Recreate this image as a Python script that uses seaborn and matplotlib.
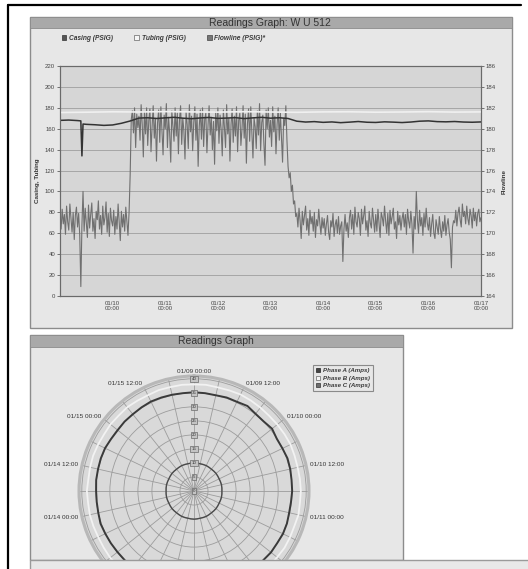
import numpy as np
import pandas as pd
import matplotlib
matplotlib.use("Agg")
import matplotlib.pyplot as plt
import matplotlib.dates as mdates
from matplotlib.patches import Rectangle, Patch
from matplotlib.lines import Line2D
import seaborn as sns

sns.set_theme(style="white")
plt.rcParams['font.family'] = ['Liberation Sans', 'DejaVu Sans']

W, H = 528, 569

# ---- top chart: readings from 01/09 00:00 ----
start = "2009-01-09 00:00"

# flowline (right axis, PSIG), one value every 30 minutes, one row = 12 hours
flowline = [
    171.6, 170.4, 172.3, 170.9, 171.8, 169.9, 172.6, 171.1, 170.3, 172.8, 171.5, 170.1,
    172.0, 169.4, 171.7, 172.5, 170.6, 171.9, 169.8, 164.9, 170.8, 174.0, 170.2, 172.4,
    171.0, 169.6, 172.7, 170.5, 171.8, 172.9, 170.2, 171.4, 169.5, 172.1, 171.3, 173.1,
    170.4, 171.7, 169.9, 172.6, 170.8, 171.5, 173.0, 170.1, 171.9, 169.7, 172.4, 171.2,
    170.7, 172.2, 169.9, 171.6, 170.4, 172.8, 171.0, 169.3, 172.1, 170.6, 171.8, 170.2,
    172.5, 171.1, 169.8, 172.0, 175.6, 180.9, 181.7, 179.6, 182.0, 178.2, 181.4, 180.1,
    181.2, 178.9, 182.3, 180.4, 177.3, 181.6, 179.5, 182.0, 178.4, 180.8, 181.9, 177.8,
    180.2, 182.2, 179.1, 181.0, 176.9, 180.6, 181.8, 178.7, 182.1, 179.9, 177.5, 181.3,
    180.0, 182.4, 178.2, 181.1, 179.6, 176.8, 181.7, 180.3, 178.8, 182.0, 179.3, 181.5,
    177.6, 180.9, 182.2, 178.5, 181.0, 179.8, 177.1, 181.6, 180.4, 178.1, 182.3, 179.7,
    181.2, 177.9, 180.6, 182.1, 178.9, 181.4, 176.4, 180.2, 181.8, 179.0, 182.0, 178.3,
    180.9, 181.5, 177.7, 180.3, 182.2, 179.4, 181.1, 178.0, 180.7, 176.6, 181.6, 179.8,
    182.0, 178.6, 181.3, 179.9, 177.4, 181.8, 180.1, 178.2, 182.3, 179.5, 181.0, 176.9,
    180.4, 181.9, 178.7, 181.2, 179.3, 182.1, 177.8, 180.8, 181.5, 178.4, 180.0, 182.2,
    179.1, 181.4, 176.7, 180.5, 181.9, 178.8, 182.1, 179.6, 177.2, 181.0, 180.2, 178.1,
    181.7, 179.4, 182.4, 177.9, 180.6, 181.3, 178.5, 176.5, 181.8, 180.0, 182.0, 179.2,
    180.8, 178.3, 182.1, 179.7, 181.2, 177.6, 180.4, 182.0, 178.9, 181.5, 179.2, 176.8,
    181.0, 180.3, 182.2, 178.9, 176.4, 175.3, 175.8, 174.0, 174.6, 172.8, 173.1, 171.6,
    171.9, 170.6, 172.4, 171.2, 169.5, 172.1, 170.8, 171.7, 172.6, 170.3, 171.4, 169.8,
    172.2, 170.9, 171.6, 170.2, 172.0, 169.6, 171.3, 170.7, 172.3, 171.0, 169.9, 171.5,
    170.5, 171.4, 169.8, 170.9, 171.7, 170.1, 169.4, 171.2, 170.6, 171.9, 169.7, 170.8,
    171.3, 170.0, 171.6, 169.9, 170.7, 171.1, 167.3, 170.4, 171.8, 170.2, 171.0, 169.6,
    171.5, 172.2, 170.4, 171.8, 169.9, 172.5, 171.1, 170.6, 172.0, 171.4, 169.8, 172.3,
    170.9, 171.7, 172.6, 170.3, 171.2, 169.7, 172.1, 171.0, 170.5, 172.4, 171.3, 170.1,
    171.8, 170.2, 172.3, 171.0, 169.6, 172.0, 171.5, 170.7, 172.6, 171.2, 170.0, 171.9,
    169.8, 172.2, 170.9, 171.6, 172.4, 170.4, 171.1, 169.5, 172.1, 170.8, 171.7, 170.3,
    171.4, 172.0, 170.6, 171.8, 169.9, 172.3, 171.2, 170.5, 172.1, 170.9, 168.1, 171.6,
    170.4, 174.0, 171.3, 170.0, 172.2, 170.7, 171.5, 169.8, 171.9, 170.6, 172.4, 171.0,
    170.3, 171.5, 169.7, 170.9, 171.8, 170.0, 169.5, 171.3, 170.6, 169.9, 171.6, 170.4,
    169.6, 171.1, 170.2, 171.7, 169.8, 170.8, 171.4, 170.1, 169.4, 166.7, 170.6, 171.2,
    171.0, 172.2, 170.7, 171.9, 172.5, 171.3, 170.6, 172.8, 171.6, 172.1, 170.9, 172.6,
    171.4, 170.8, 172.3, 171.7, 170.5, 172.4, 171.2, 172.0, 170.7, 171.9, 172.3, 171.1,
    171.5,
]

# casing (left axis, PSIG)
casing_hours = [0, 4, 8, 9.5, 10, 10.5, 12, 16, 20, 24, 28, 32, 36, 40, 44, 48, 52, 56,
                60, 64, 68, 72, 76, 80, 84, 88, 92, 96, 100, 104, 108, 112, 116, 120,
                124, 128, 132, 136, 140, 144, 148, 152, 156, 160, 164, 168, 172, 176,
                180, 184, 188, 192]
casing = [168.0, 168.3, 167.8, 167.5, 134.0, 164.5, 164.2, 163.8, 163.2, 163.6, 165.2,
          167.4, 170.2, 170.5, 169.8, 170.4, 170.9, 170.1, 169.6, 170.3, 170.8, 169.9,
          170.2, 170.6, 169.7, 170.4, 170.9, 170.1, 170.5, 169.8, 167.2, 166.4, 166.8,
          166.1, 166.5, 165.8, 166.3, 166.9, 166.2, 166.0, 166.6, 166.3, 165.9, 166.4,
          167.2, 167.5, 166.8, 166.6, 166.9, 166.4, 166.2, 166.5]

# tubing (left axis, PSIG)
tubing_hours = [0, 12, 24, 36, 48, 60, 72, 84, 96, 108, 120, 132, 144, 156, 168, 180, 192]
tubing = [175.5, 175.8, 176.2, 176.0, 176.4, 176.1, 175.9, 176.3, 176.0, 175.7, 176.1,
          176.2, 175.8, 176.0, 176.3, 175.9, 176.1]

x_ticks = ["2009-01-10", "2009-01-11", "2009-01-12", "2009-01-13",
           "2009-01-14", "2009-01-15", "2009-01-16", "2009-01-17"]

# ---- bottom polar chart: phase currents every 3 h over a 7 day cycle ----
phase_hours = list(range(0, 169, 3))
phase_a = [35.2, 35.1, 35.0, 35.3, 35.3, 35.8, 35.2, 35.1, 35.6, 34.9,
           35.0, 35.3, 35.2, 35.0, 35.0, 34.8, 34.8, 35.1, 35.2, 35.0,
           35.1, 34.9, 34.9, 35.1, 35.0, 35.2, 35.3, 35.0, 35.1, 34.9,
           34.8, 35.0, 35.0, 35.2, 35.2, 34.9, 34.9, 35.0, 35.1, 35.3,
           35.0, 34.9, 34.9, 35.1, 35.1, 35.2, 35.2, 34.9, 34.8, 35.0,
           35.0, 35.2, 35.4, 35.3, 35.2, 35.1, 35.2]
phase_b = [38.0, 38.1, 37.9, 38.0, 38.2, 38.1, 38.0, 37.9, 38.0, 38.1,
           38.2, 38.0, 37.9, 38.0, 38.1, 38.0, 38.2, 37.9, 38.0, 38.1,
           37.9, 38.0, 38.2, 38.1, 38.0, 37.9, 38.0, 38.1, 38.0, 38.2,
           37.9, 38.0, 38.1, 38.0, 37.9, 38.1, 38.2, 38.0, 37.9, 38.0,
           38.1, 38.0, 38.2, 37.9, 38.0, 38.1, 38.0, 37.9, 38.1, 38.0,
           38.2, 38.0, 37.9, 38.1, 38.0, 38.1, 38.0]
phase_c = [10.0, 10.05, 9.95, 10.0, 10.05, 10.0, 9.95, 10.0, 10.05, 10.0,
           9.95, 10.0, 10.05, 10.0, 9.95, 10.0, 10.05, 10.0, 9.95, 10.0,
           10.05, 10.0, 9.95, 10.0, 10.05, 10.0, 9.95, 10.0, 10.05, 10.0,
           9.95, 10.0, 10.05, 10.0, 9.95, 10.0, 10.05, 10.0, 9.95, 10.0,
           10.05, 10.0, 9.95, 10.0, 10.05, 10.0, 9.95, 10.0, 10.05, 10.0,
           9.95, 10.0, 10.05, 10.0, 9.95, 10.0, 10.0]
polar_labels = ["01/09 00:00", "01/09 12:00", "01/10 00:00", "01/10 12:00",
                "01/11 00:00", "01/11 12:00", "01/12 00:00", "01/12 12:00",
                "01/13 00:00", "01/13 12:00", "01/14 00:00", "01/14 12:00",
                "01/15 00:00", "01/15 12:00"]
ring_values = [0, 5, 10, 15, 20, 25, 30, 35, 40]


def box(x0, y0, x1, y1):
    return [x0 / W, 1 - y1 / H, (x1 - x0) / W, (y1 - y0) / H]


def panel(fig, x0, y0, x1, y1, fc, ec, lw=0.8, z=-5):
    b = box(x0, y0, x1, y1)
    fig.add_artist(Rectangle((b[0], b[1]), b[2], b[3], transform=fig.transFigure,
                             facecolor=fc, edgecolor=ec, linewidth=lw, zorder=z))


fig = plt.figure(figsize=(W / 100, H / 100), dpi=100)
fig.patch.set_facecolor("white")

# outer black frame (left and top)
fig.add_artist(Line2D([8 / W, 8 / W], [0, 1 - 5 / H], color="black", lw=1.6))
fig.add_artist(Line2D([8 / W, 521 / W], [1 - 5 / H, 1 - 5 / H], color="black", lw=1.6))

# panels
panel(fig, 30, 17, 512, 328, "#e7e7e7", "#8c8c8c", lw=1.0)
panel(fig, 30, 17, 512, 28, "#a9a9a9", "#8c8c8c", lw=0.6)
panel(fig, 30, 335, 403, 560, "#e7e7e7", "#8c8c8c", lw=1.0)
panel(fig, 30, 335, 403, 347, "#a9a9a9", "#8c8c8c", lw=0.6)
panel(fig, 30, 560, 530, 572, "#e8e8e8", "#9a9a9a", lw=1.0, z=10)

fig.text(270 / W, 1 - 22.5 / H, "Readings Graph: W U 512", ha="center", va="center",
         fontsize=7.5, color="#333333")
fig.text(216 / W, 1 - 341 / H, "Readings Graph", ha="center", va="center",
         fontsize=7.5, color="#333333")

# ---- top time series ----
ax = fig.add_axes(box(60, 66, 481, 296))
ax2 = ax.twinx()
ax2.patch.set_visible(True)
ax2.set_facecolor("#d6d6d6")
ax.patch.set_visible(False)
ax2.set_zorder(1)
ax.set_zorder(2)

t0 = pd.Timestamp(start)
flow_times = pd.date_range(start, periods=len(flowline), freq="30min")
casing_times = t0 + pd.to_timedelta(casing_hours, unit="h")
tubing_times = t0 + pd.to_timedelta(tubing_hours, unit="h")

sns.lineplot(x=flow_times, y=flowline, ax=ax2, color="#707070", linewidth=0.8)
sns.lineplot(x=tubing_times, y=tubing, ax=ax, color="#f0f0f0", linewidth=1.2)
sns.lineplot(x=casing_times, y=casing, ax=ax, color="#333333", linewidth=1.1)

ax.set_xlim(t0, pd.Timestamp("2009-01-17"))
ax.set_ylim(0, 220)
ax2.set_ylim(164, 186)
ax.set_yticks(range(0, 221, 20))
ax2.set_yticks(range(164, 187, 2))
ax.set_xticks(pd.to_datetime(x_ticks))
ax.xaxis.set_major_formatter(mdates.DateFormatter("%m/%d\n%H:%M"))
ax.xaxis.set_minor_locator(mdates.HourLocator(byhour=[0, 6, 12, 18]))

ax2.set_axisbelow(True)
ax2.grid(True, which="major", axis="y", color="#9e9e9e", linewidth=0.6)
ax2.grid(True, which="both", axis="x", color="#9e9e9e", linewidth=0.6)
ax.grid(False)

for a in (ax, ax2):
    a.tick_params(axis="both", which="both", labelsize=4.3, colors="#444444",
                  length=2, width=0.5, pad=1.5)
    for s in a.spines.values():
        s.set_color("#6a6a6a")
        s.set_linewidth(0.8)
for lab in ax.get_xticklabels():
    lab.set_linespacing(1.0)

ax.set_xlabel("")
ax2.set_xlabel("")
ax.set_ylabel("Casing, Tubing", fontsize=4.5, fontweight="bold", color="#333333")
ax2.set_ylabel("Flowline", fontsize=4.5, fontweight="bold", color="#333333")
ax.yaxis.set_label_coords(-0.048, 0.5)
ax2.yaxis.set_label_coords(1.05, 0.5)

top_handles = [Patch(facecolor="#555555", edgecolor="#333333", linewidth=0.5),
               Patch(facecolor="#f5f5f5", edgecolor="#666666", linewidth=0.5),
               Patch(facecolor="#777777", edgecolor="#444444", linewidth=0.5)]
fig.legend(top_handles, ["Casing (PSIG)", "Tubing (PSIG)", "Flowline (PSIG)*"],
           loc="center left", bbox_to_anchor=(57 / W, 1 - 38 / H), ncol=3,
           frameon=False, handlelength=0.7, handleheight=0.7, handletextpad=0.4,
           columnspacing=3.2, borderpad=0.2,
           prop={"size": 4.8, "style": "italic", "weight": "bold"},
           labelcolor="#3a3a3a")

# ---- bottom polar chart ----
pax = fig.add_axes(box(79, 376, 309, 606), projection="polar")
pax.set_theta_zero_location("N")
pax.set_theta_direction(-1)
pax.set_facecolor("#d9d9d9")
pax.set_ylim(0, 41)

cycle = 168.0
theta_phase = np.array(phase_hours) / cycle * 2 * np.pi
sns.lineplot(x=theta_phase, y=phase_b, ax=pax, sort=False, color="#f2f2f2", linewidth=1.3)
sns.lineplot(x=theta_phase, y=phase_a, ax=pax, sort=False, color="#3a3a3a", linewidth=1.4)
sns.lineplot(x=theta_phase, y=phase_c, ax=pax, sort=False, color="#4a4a4a", linewidth=1.0)
pax.set_xlabel("")
pax.set_ylabel("")

spoke_hours = np.arange(0, cycle, 6)
pax.set_xticks(spoke_hours / cycle * 2 * np.pi)
pax.set_xticklabels([])
pax.set_yticks(ring_values)
pax.set_yticklabels([])
pax.tick_params(length=0)
pax.grid(True, color="#9c9c9c", linewidth=0.6)
pax.spines["polar"].set_color("#b8b8b8")
pax.spines["polar"].set_linewidth(2.2)

for i, lab in enumerate(polar_labels):
    ang = i * 12 / cycle * 2 * np.pi
    if np.cos(ang) < -0.3:
        continue  # these fall below the visible part of the panel
    s = np.sin(ang)
    if abs(s) < 1e-6:
        ha, va, r = "center", "bottom", 41.8
    else:
        ha = "left" if s > 0 else "right"
        va, r = "center", 42.5
    pax.text(ang, r, lab, ha=ha, va=va, fontsize=4.6, color="#333333", clip_on=False)

for rv in ring_values:
    pax.text(0, rv, str(rv), ha="center", va="center", fontsize=3.2, color="#333333",
             bbox=dict(boxstyle="square,pad=0.25", facecolor="#c4c4c4",
                       edgecolor="#6a6a6a", linewidth=0.5))

phase_handles = [Patch(facecolor="#444444", edgecolor="#222222", linewidth=0.5),
                 Patch(facecolor="#f5f5f5", edgecolor="#666666", linewidth=0.5),
                 Patch(facecolor="#6e6e6e", edgecolor="#333333", linewidth=0.5)]
leg = fig.legend(phase_handles, ["Phase A (Amps)", "Phase B (Amps)", "Phase C (Amps)"],
                 loc="upper left", bbox_to_anchor=(310 / W, 1 - 362 / H),
                 frameon=True, fancybox=False, edgecolor="#8a8a8a", facecolor="#e7e7e7",
                 framealpha=1, handlelength=0.7, handleheight=0.7, handletextpad=0.5,
                 labelspacing=0.35, borderpad=0.5,
                 prop={"size": 4.4, "style": "italic", "weight": "bold"},
                 labelcolor="#3a3a3a")
leg.get_frame().set_linewidth(0.8)

fig.savefig("out.png", dpi=100)
